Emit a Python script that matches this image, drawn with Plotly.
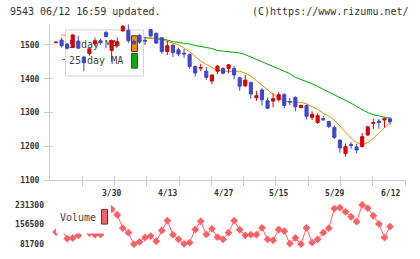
import plotly.graph_objects as go

W, H = 420, 259

# ---------------- data ----------------
date_labels = ["3/30", "4/13", "4/27", "5/15", "5/29", "6/12"]
date_label_idx = [10, 20, 30, 40, 50, 60]

opens = [1506, 1514, 1502, 1492, 1511, 1464, 1474, 1503, 1512, 1537,
         1483, 1497, 1541, 1543, 1510, 1528, 1513, 1545, 1534, 1521,
         1480, 1499, 1485, 1475, 1471, 1436, 1431, 1422, 1393, 1422,
         1430, 1430, 1430, 1403, 1379, 1389, 1344, 1367, 1335, 1334,
         1338, 1353, 1333, 1345, 1315, 1321, 1286, 1271, 1282, 1274,
         1256, 1219, 1179, 1206, 1199, 1200, 1234, 1268, 1275, 1278,
         1282]
highs = [1509, 1521, 1505, 1531, 1526, 1466, 1492, 1521, 1518, 1540,
         1516, 1522, 1557, 1560, 1514, 1531, 1524, 1547, 1536, 1523,
         1512, 1502, 1492, 1488, 1474, 1439, 1444, 1435, 1413, 1440,
         1434, 1442, 1437, 1406, 1411, 1391, 1364, 1372, 1345, 1357,
         1360, 1357, 1343, 1348, 1324, 1324, 1304, 1298, 1290, 1276,
         1262, 1221, 1209, 1213, 1208, 1240, 1260, 1282, 1281, 1285,
         1287]
lows = [1505, 1492, 1486, 1490, 1488, 1422, 1468, 1497, 1500, 1522,
        1450, 1495, 1539, 1505, 1500, 1503, 1499, 1524, 1502, 1473,
        1470, 1464, 1466, 1462, 1429, 1406, 1422, 1396, 1384, 1413,
        1413, 1416, 1398, 1364, 1376, 1341, 1335, 1321, 1310, 1316,
        1333, 1313, 1322, 1304, 1313, 1280, 1278, 1267, 1276, 1254,
        1222, 1182, 1170, 1193, 1180, 1197, 1232, 1251, 1252, 1256,
        1265]
closes = [1508, 1497, 1490, 1529, 1490, 1447, 1488, 1512, 1506, 1524,
          1512, 1509, 1555, 1512, 1503, 1508, 1511, 1526, 1505, 1480,
          1497, 1477, 1473, 1473, 1436, 1417, 1433, 1404, 1411, 1437,
          1416, 1441, 1411, 1378, 1396, 1355, 1350, 1338, 1313, 1341,
          1353, 1321, 1331, 1317, 1321, 1289, 1295, 1291, 1279, 1259,
          1227, 1196, 1200, 1203, 1190, 1229, 1258, 1270, 1271, 1283,
          1273]

ma5 = [None, 1530, 1524, 1520, 1515, 1506, 1501, 1503, 1500, 1504,
       1515, 1520, 1528, 1526, 1520, 1517, 1521, 1519, 1517, 1515,
       1510, 1506, 1500, 1490, 1480, 1465, 1452, 1442, 1434, 1425,
       1422, 1422, 1423, 1422, 1416, 1408, 1394, 1380, 1366, 1354,
       1344, 1335, 1332, 1331, 1330, 1326, 1318, 1309, 1298, 1290,
       1278, 1260, 1240, 1225, 1212, 1205, 1212, 1224, 1240, 1255,
       1271]
ma25 = [None, 1455, 1458, 1463, 1465, 1470, 1472, 1478, 1480, 1487,
        1490, 1497, 1501, 1508, 1511, 1518, 1521, 1520, 1519, 1517,
        1514, 1509, 1507, 1505, 1502, 1498, 1495, 1492, 1489, 1483,
        1481, 1480, 1478, 1476, 1471, 1464, 1457, 1450, 1444, 1436,
        1429, 1422, 1415, 1404, 1398, 1391, 1385, 1377, 1369, 1361,
        1353, 1345, 1337, 1328, 1318, 1308, 1300, 1294, 1290, 1287,
        1283]

volume = [128000, 137800, 103000, 105000, 115000, 150000, 124000, 118000, 119000, 140000,
          215000, 194000, 142700, 125500, 81700, 90300, 106800, 112800, 92900, 134000,
          171400, 118000, 100400, 83000, 88000, 137800, 168800, 119100, 140400, 109000,
          100400, 125500, 171400, 136700, 115400, 118000, 118000, 144100, 100400, 96700,
          137800, 131400, 84000, 105300, 82000, 144100, 88000, 100400, 125500, 142700,
          217500, 221200, 205100, 186400, 167700, 231300, 218900, 190200, 159100, 106800,
          149000]

price_ticks = [1100, 1200, 1300, 1400, 1500]
vol_ticks = [81700, 156500, 231300]

idx = list(range(len(closes)))

# ---------------- layout helpers (pixels -> fractions) ----------------
def px_x(p):
    return p / W

def px_y(p):
    return 1 - p / H

XR = [-1.078, 62.69]
YR = [1100, 1562.7]
VR = [48040, 264960]
xdom = [px_x(50), px_x(405)]
ydom = [px_y(184), px_y(24)]
vdom = [px_y(258), px_y(200)]
divs = [XR[0] + k * (XR[1] - XR[0]) / 11 for k in range(1, 12)]

UP = "#d90000"
DOWN = "#3f48cc"
AXC = "#cccccc"
TXT = "#333333"
FONT = "DejaVu Sans Mono"
VOLC = "#ff6064"
TICKFONT = dict(family=FONT, size=8, color=TXT, weight="bold")

fig = go.Figure()

# moving averages (base axes)
fig.add_trace(go.Scatter(x=idx, y=ma25, mode="lines", line=dict(color="#00aa00", width=1),
                         xaxis="x", yaxis="y", hoverinfo="skip"))
fig.add_trace(go.Scatter(x=idx, y=ma5, mode="lines", line=dict(color="#f08c00", width=1),
                         xaxis="x", yaxis="y", hoverinfo="skip"))

# legend box (overlay axes 2, fractional units)
def rect(x0, x1, y0, y1, fill, line, axes=("x2", "y2")):
    return go.Scatter(x=[x0, x1, x1, x0, x0], y=[y0, y0, y1, y1, y0], mode="lines",
                      fill="toself", fillcolor=fill, line=dict(color=line, width=1),
                      xaxis=axes[0], yaxis=axes[1], hoverinfo="skip")

fx = lambda p: (p - 50) / 355
fy = lambda p: (184 - p) / 160
fig.add_trace(rect(fx(65.5), fx(143.5), fy(77.5), fy(30.5), "white", "#d4d4d4"))
fig.add_trace(rect(fx(131.5), fx(137.5), fy(52.5), fy(36.5), "#f08c00", "#444444"))
fig.add_trace(rect(fx(131.5), fx(137.5), fy(69.5), fy(54.5), "#10aa10", "#444444"))
fig.add_trace(go.Scatter(x=[fx(69), fx(69)], y=[fy(46.5), fy(62.5)], mode="text",
                         text=["5-day MA", "25-day MA"], textposition="middle right",
                         textfont=dict(family=FONT, size=10, color="#444444"),
                         xaxis="x2", yaxis="y2", hoverinfo="skip"))

# candles (overlay axes 3)
fig.add_trace(go.Candlestick(x=idx, open=opens, high=highs, low=lows, close=closes,
                             increasing=dict(line=dict(color=UP, width=1), fillcolor=UP),
                             decreasing=dict(line=dict(color=DOWN, width=1), fillcolor=DOWN),
                             whiskerwidth=0, xaxis="x3", yaxis="y3", hoverinfo="skip"))

# volume
fig.add_trace(go.Scatter(x=idx, y=volume, mode="lines+markers",
                         line=dict(color=VOLC, width=1),
                         marker=dict(symbol="diamond", size=6, color=VOLC),
                         xaxis="x4", yaxis="y4", hoverinfo="skip"))

fig.update_layout(
    width=W, height=H, margin=dict(l=0, r=0, t=0, b=0),
    paper_bgcolor="white", plot_bgcolor="white", showlegend=False,
    boxgap=0.2,
    font=dict(family=FONT, size=8, color=TXT),
    xaxis=dict(domain=xdom, range=XR, anchor="y", showline=True, linecolor=AXC,
               ticks="inside", ticklen=4, tickcolor=AXC, tickvals=divs,
               showticklabels=False, showgrid=False, zeroline=False, fixedrange=True),
    yaxis=dict(domain=ydom, range=YR, anchor="x", showline=True, linecolor=AXC,
               ticks="inside", ticklen=3, tickcolor=AXC, tickvals=price_ticks,
               showticklabels=False, showgrid=False, zeroline=False),
    xaxis2=dict(overlaying="x", anchor="y2", range=[0, 1], visible=False),
    yaxis2=dict(overlaying="y", anchor="x2", range=[0, 1], visible=False),
    xaxis3=dict(overlaying="x", anchor="y3", range=XR, tickvals=divs, ticks="outside",
                ticklen=5, tickcolor=AXC, showticklabels=False, showline=False,
                showgrid=False, zeroline=False, rangeslider=dict(visible=False)),
    yaxis3=dict(overlaying="y", anchor="x3", range=YR, tickvals=price_ticks,
                ticktext=[str(v) for v in price_ticks], ticks="outside", ticklen=5,
                tickcolor=AXC, showline=False, showgrid=False, zeroline=False,
                tickfont=TICKFONT, ticklabelstandoff=3),
    xaxis4=dict(domain=xdom, anchor="y4", range=XR, visible=False),
    yaxis4=dict(domain=vdom, anchor="x4", range=VR, tickvals=vol_ticks,
                ticktext=[str(v) for v in vol_ticks], ticks="", showline=False,
                showgrid=False, zeroline=False,
                tickfont=TICKFONT, ticklabelstandoff=5),
)

# date labels
for i, lab in zip(date_label_idx, date_labels):
    fig.add_annotation(x=i, y=px_y(197), xref="x", yref="paper", text=lab, showarrow=False,
                       font=TICKFONT, xanchor="center", yanchor="middle")

# header texts
fig.add_annotation(x=px_x(8), y=px_y(12), xref="paper", yref="paper",
                   text="9543 06/12 16:59 updated.", showarrow=False, xanchor="left",
                   yanchor="middle", font=dict(family=FONT, size=10, color=TXT))
fig.add_annotation(x=px_x(411), y=px_y(12), xref="paper", yref="paper",
                   text="(C)https://www.rizumu.net/", showarrow=False, xanchor="right",
                   yanchor="middle", font=dict(family=FONT, size=10, color=TXT))

# volume legend
fig.add_shape(type="rect", xref="paper", yref="paper", x0=px_x(56), x1=px_x(111),
              y0=px_y(238), y1=px_y(211), fillcolor="white", line=dict(width=0), layer="above")
fig.add_shape(type="rect", xref="paper", yref="paper", x0=px_x(101.5), x1=px_x(107.5),
              y0=px_y(228.5), y1=px_y(213.5), fillcolor=VOLC, line=dict(color="#444444", width=1),
              layer="above")
fig.add_annotation(x=px_x(58), y=px_y(222), xref="paper", yref="paper", text="Volume",
                   showarrow=False, xanchor="left", yanchor="middle",
                   font=dict(family=FONT, size=10, color="#444444"))

fig.write_html("out.html")
